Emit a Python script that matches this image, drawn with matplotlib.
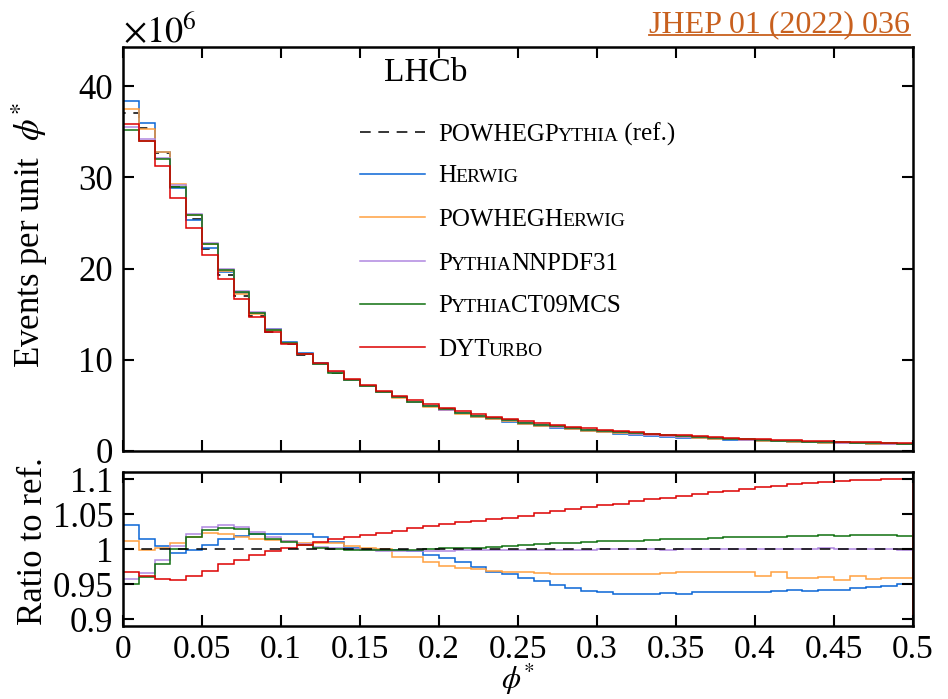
import numpy as np
import matplotlib
matplotlib.use('Agg')
import matplotlib.pyplot as plt
from matplotlib.transforms import offset_copy
from matplotlib.lines import Line2D

plt.rcParams['font.family'] = ['Liberation Serif', 'DejaVu Serif']
plt.rcParams['mathtext.fontset'] = 'stix'

# phi* bin edges, 50 bins of 0.01
edges = np.linspace(0, 0.5, 51)

# reference POWHEGPythia, events per unit phi* (x 1e6)
ref = [37.1, 35.4, 32.7, 29.0, 25.4, 22.15, 19.3, 16.95, 14.85, 13.1,
       11.7, 10.55, 9.5, 8.6, 7.8, 7.1, 6.45, 5.9, 5.4, 4.95,
       4.55, 4.2, 3.88, 3.6, 3.35, 3.1, 2.88, 2.68, 2.5, 2.33,
       2.18, 2.04, 1.91, 1.79, 1.68, 1.58, 1.49, 1.41, 1.33, 1.26,
       1.19, 1.13, 1.07, 1.02, 0.97, 0.93, 0.89, 0.85, 0.81, 0.78]

# ratios to reference
r_herwig = [1.034, 1.015, 1.004, 0.994, 0.998, 1.006, 1.015, 1.019, 1.022, 1.022,
            1.022, 1.021, 1.017, 1.010, 1.002, 1.000, 0.999, 0.998, 0.997, 0.992,
            0.987, 0.981, 0.974, 0.967, 0.965, 0.958, 0.954, 0.948, 0.944, 0.9405,
            0.939, 0.936, 0.936, 0.936, 0.937, 0.936, 0.938, 0.938, 0.938, 0.939,
            0.939, 0.940, 0.941, 0.940, 0.942, 0.942, 0.944, 0.946, 0.947, 0.9495]
r_powheg_herwig = [1.012, 0.9986, 1.0014, 1.008, 1.0175, 1.0236, 1.021, 1.0175, 1.014, 1.0127,
                   1.011, 1.009, 1.009, 1.008, 1.004, 1.001, 1.0, 0.989, 0.988, 0.981,
                   0.976, 0.973, 0.971, 0.968, 0.967, 0.9665, 0.9655, 0.9646, 0.9646, 0.964,
                   0.965, 0.965, 0.9646, 0.965, 0.9655, 0.9665, 0.9665, 0.9665, 0.967, 0.967,
                   0.961, 0.9665, 0.959, 0.959, 0.960, 0.956, 0.961, 0.9575, 0.9585, 0.959]
r_nnpdf = [0.9575, 0.9655, 0.984, 1.004, 1.021, 1.031, 1.034, 1.032, 1.024, 1.0175,
           1.012, 1.007, 1.003, 1.001, 0.9995, 0.9986, 0.9976, 0.9976, 0.9976, 0.9976,
           0.9976, 0.998, 0.998, 0.9986, 0.9986, 0.9986, 0.999, 0.999, 0.999, 0.999,
           0.9995, 0.9995, 0.9995, 0.9995, 0.999, 0.9995, 1.0, 1.0, 1.0, 1.0,
           0.9995, 1.0, 1.0, 1.0005, 1.001, 1.0005, 1.0, 1.0005, 1.0, 0.999]
r_ct09 = [0.950, 0.960, 0.978, 0.9995, 1.0175, 1.027, 1.030, 1.028, 1.021, 1.015,
          1.010, 1.006, 1.002, 1.0, 0.999, 0.998, 0.998, 0.9986, 0.999, 1.0005,
          1.001, 1.0014, 1.002, 1.003, 1.004, 1.0057, 1.0066, 1.008, 1.009, 1.010,
          1.011, 1.0115, 1.012, 1.013, 1.0137, 1.014, 1.015, 1.016, 1.0165, 1.017,
          1.017, 1.017, 1.018, 1.0185, 1.0195, 1.0185, 1.0195, 1.0195, 1.0195, 1.0185]
r_dyturbo = [0.9665, 0.961, 0.957, 0.956, 0.961, 0.969, 0.978, 0.984, 0.991, 0.9967,
             1.0014, 1.006, 1.010, 1.0137, 1.0175, 1.020, 1.023, 1.026, 1.030, 1.0326,
             1.0354, 1.038, 1.040, 1.043, 1.045, 1.047, 1.052, 1.054, 1.057, 1.060,
             1.063, 1.065, 1.068, 1.071, 1.073, 1.076, 1.079, 1.081, 1.083, 1.086,
             1.089, 1.090, 1.093, 1.094, 1.096, 1.097, 1.099, 1.099, 1.0995, 1.100]

series = [
    ([('H', False), ('erwig', True)], r_herwig, '#0a66d6'),
    ([('POWHEGH', False), ('erwig', True)], r_powheg_herwig, '#ffa040'),
    ([('P', False), ('ythia', True), ('NNPDF31', False)], r_nnpdf, '#b088e0'),
    ([('P', False), ('ythia', True), ('CT09MCS', False)], r_ct09, '#107010'),
    ([('DYT', False), ('urbo', True)], r_dyturbo, '#dd0000'),
]
ref_label = [('POWHEGP', False), ('ythia', True), (' (ref.)', False)]

FS = 25
LW = 1.1

fig = plt.figure(figsize=(9.48, 6.99), dpi=100)
ax1 = fig.add_axes([0.1297, 0.3548, 0.8333, 0.5780])
ax2 = fig.add_axes([0.1297, 0.1044, 0.8333, 0.2203])

ref_arr = np.array(ref)
ax1.stairs(ref_arr, edges, color='black', lw=LW, linestyle=(0, (7, 5)))
ax2.axhline(1.0, color='black', lw=LW, linestyle=(0, (7, 5)))
for label, ratio, col in series:
    ratio = np.array(ratio)
    ax1.stairs(ref_arr * ratio, edges, color=col, lw=LW)
    ax2.stairs(ratio, edges, color=col, lw=LW)

for ax in (ax1, ax2):
    ax.set_xlim(0, 0.5)
    ax.tick_params(direction='in', top=True, right=True, length=8, width=1.5, pad=7)
    ax.tick_params(axis='y', labelsize=25)
    ax.tick_params(axis='x', labelsize=24, pad=6)
    for sp in ax.spines.values():
        sp.set_linewidth(1.8)
    ax.set_xticks(np.arange(0, 0.501, 0.05))

ax1.set_ylim(0, 44.3)
ax1.set_yticks([0, 10, 20, 30, 40])
ax1.tick_params(labelbottom=False)

ax2.set_ylim(0.89, 1.11)
ax2.set_yticks([0.9, 0.95, 1.0, 1.05, 1.1])
ax2.set_yticklabels(['0.9', '0.95', '1', '1.05', '1.1'])
ax2.set_xticklabels(['%g' % v for v in np.arange(0, 0.501, 0.05).round(2)])

ax1.set_ylabel(r'Events per unit  $\phi^{*}$', fontsize=FS)
ax2.set_ylabel('Ratio to ref.', fontsize=FS)
ax1.yaxis.set_label_coords(-0.092, 0.535)
ax2.yaxis.set_label_coords(-0.092, 0.552)
ax2.set_xlabel(r'$\phi^{*}$', fontsize=22)
ax2.xaxis.set_label_coords(0.5, -0.235)

ax1.text(0.0, 1.013, r'$\times10^{6}$', transform=ax1.transAxes,
         fontsize=26, ha='left', va='baseline')
ax1.text(0.33, 0.935, 'LHCb', transform=ax1.transAxes, fontsize=24,
         ha='left', va='center')

renderer = fig.canvas.get_renderer()


def smallcaps(ax, x, y, parts, size):
    off = 0.0
    for s, small in parts:
        tr = offset_copy(ax.transAxes, fig=ax.figure, x=off, y=0, units='dots')
        if small:
            t = ax.text(x, y, s.upper(), transform=tr, fontsize=size * 0.78,
                        ha='left', va='baseline')
        else:
            t = ax.text(x, y, s, transform=tr, fontsize=size, ha='left', va='baseline')
        off += t.get_window_extent(renderer).width - 1.0


# legend drawn by hand so the small capitals come out
rows = [0.789, 0.686, 0.578, 0.470, 0.364, 0.257]
entries = [(ref_label, 'black', (0, (7, 5)))] + [(l, c, '-') for l, r, c in series]
for yr, (label, col, ls) in zip(rows, entries):
    ax1.add_line(Line2D([0.30, 0.382], [yr, yr], transform=ax1.transAxes,
                        color=col, lw=LW, linestyle=ls))
    smallcaps(ax1, 0.399, yr - 0.021, label, 18)

# journal reference, underlined
jt = fig.text(910 / 948, 1 - 32 / 699, 'JHEP 01 (2022) 036', color='#c8601e',
              fontsize=23, ha='right', va='baseline')
bb = jt.get_window_extent(renderer)
fig.add_artist(Line2D([bb.x0 / 948, bb.x1 / 948], [1 - 35 / 699, 1 - 35 / 699],
                      transform=fig.transFigure, color='#c8601e', lw=1.3))

fig.savefig('out.png', dpi=100)
